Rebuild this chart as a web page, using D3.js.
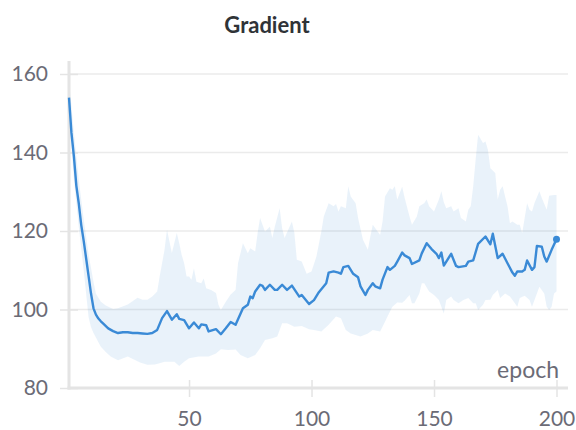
<!DOCTYPE html>
<html>
<head>
<meta charset="utf-8">
<script src="https://cdn.jsdelivr.net/npm/d3@7"></script>
<style>
  body { margin: 0; background: #fff; }
  svg { display: block; font-family: Lato, "Noto Sans", sans-serif; }
</style>
</head>
<body>
<svg id="chart" width="576" height="430"></svg>
<script>
// mean line
var meanEpochs = [1,2,3,4,5,6,7,8,9,10,11,12,13,14,15,17,19,21,23,25,27,29,31,33,35,37,39,41,43,45,46,48,50,52,54,55,57,58,61,63,65,67,69,72,74,75,76,77,79,80,81,83,85,86,88,90,92,95,96,99,101,103,106,107,109,111,112,113,115,117,119,120,122,123,125,126,128,129,131,132,134,135,137,138,140,141,144,145,147,149,151,152,153,154,157,159,160,163,164,166,168,171,173,174,176,178,180,182,183,184,186,187,188,190,191,192,194,195,196,198,200];
var meanValues = [154,145,139,131.5,127,121.5,117.5,113,108.5,104,100.3,98.7,97.7,97,96.4,95.2,94.5,94,94.2,94.2,94,94,93.9,93.8,94,94.8,97.8,99.6,97.4,98.8,97.6,97.3,95.2,96.7,95.2,96.2,96,94.4,95,93.7,95.2,96.8,96.1,100.3,101.2,103.3,102.9,104.6,106.3,106,105,106.3,105,105,106.3,105,106.1,103.3,103.7,101.4,102.4,104.4,106.7,109.4,109.7,109.4,109.1,110.8,111.1,109.1,108.2,105.9,103.7,105,106.7,105.9,105.4,107.6,110.8,110.1,111.1,112.2,114.5,113.8,113.1,111.6,112.5,114.3,116.9,115.4,114.2,113.1,114.5,111.2,114.2,111.1,110.8,111.1,112.2,112.5,116.7,118.6,116.6,119.3,113.1,114.2,111.8,109.4,108.6,109.7,109.7,110.1,112.5,110.1,110.8,116.2,116,113.5,112.2,115.2,117.9];

// band, upper edge
var maxEpochs = [1,3,5,7,9,11,12,14,16,19,21,25,29,31,33,35,37,38,40,41,42,43,45,46,47,48,49,50,51,52,53,55,56,57,59,61,62,63,65,67,69,70,72,74,75,77,78,79,80,81,83,84,85,87,88,89,92,93,94,96,98,100,102,104,105,107,109,110,111,112,114,115,116,118,119,121,123,124,125,127,128,129,130,132,133,134,135,137,138,140,141,143,144,146,147,148,150,152,153,154,155,157,158,160,161,163,164,165,166,167,168,170,171,172,173,175,176,177,178,180,181,182,184,185,186,188,189,190,191,193,194,196,197,199,200];
var maxValues = [158.6,145,133,123,114,107,104,102,101,100.1,100.3,101.3,103,102.5,102.5,103.3,104.6,108.4,115.2,120.3,117.3,114.4,119.5,116.9,113.9,111.8,108.4,108.4,107.6,110.5,107.1,106.7,107.9,105.4,105,104.2,101.2,99.9,102,103.8,105,111.8,116.9,114.3,115.6,114.8,119.5,123.3,121.6,119.9,121.1,118.2,121.1,125.8,120.7,118.2,122.4,119.5,112.7,112.2,109.1,109.7,113.5,119.9,123.7,127.1,126.3,126.9,125,126.3,125.8,131.4,128.8,127.1,123.3,117.8,115.2,118.6,121.6,119.9,119,122.4,128.8,130.9,130.5,131.4,128,131.3,128.5,123.7,121.6,123.7,126.3,127.1,128,126.3,125,128,130.1,127.3,125.8,126.3,125,125.8,123.3,122.4,125.4,126.3,131.4,138.2,144.5,142.4,142.8,140.7,136,134.8,128,130.5,131.4,126.3,122,122.4,121.6,121.6,119.5,127.1,125.4,125,127.1,130.1,128.4,125.4,129,129.2,129.2];

// band, lower edge
var minEpochs = [1,3,5,7,9,10,11,14,16,18,21,25,30,33,36,38,40,44,46,48,50,54,58,61,63,66,69,71,74,77,79,81,84,86,88,90,93,96,99,101,104,107,110,112,114,116,120,123,125,128,130,131,133,135,137,138,140,141,142,144,145,146,148,150,152,154,155,157,158,160,162,164,166,167,168,170,171,173,174,176,177,179,181,183,184,185,187,189,190,192,193,195,196,197,198,199,200];
var minValues = [150,133,121,110,98,95.5,94,90.5,89.2,88,87.1,88,86.5,85.9,86,86.3,86.7,86.7,85.6,86.7,87.6,88,88,88.8,89.9,89.7,89.8,88.4,87.6,88.4,90.1,92.2,92.7,93.1,96.5,96.5,95.6,95.8,95,94.8,94.4,96.1,98.2,97.8,94.8,93.9,93.1,93.9,94.8,94.4,96.9,98.2,100.7,101.8,101.7,102.2,103.7,101.6,101.6,104.1,106.7,106.7,104.6,103.7,102.4,99,102.4,103.3,102.4,101.6,102.4,102.9,101.6,101.6,99.9,101.2,102.4,102.5,103.7,105,102.9,104.1,103.3,101.6,100.7,102.9,103.5,102.4,100.7,104.1,105.8,104.1,100.7,99.9,100.7,104.1,104.6];

var yTicks = [80, 100, 120, 140, 160];
var xTicks = [50, 100, 150, 200];

var svg = d3.select("#chart");
var textColor = "#6b6b76";
var gridColor = "#ebebeb";
var axisColor = "#e4e4e4";
var lineColor = "#3a8ad6";

var x = d3.scaleLinear().domain([1, 200]).range([69, 556.5]);
var y = d3.scaleLinear().domain([80, 160]).range([388, 74]);

// title
svg.append("text")
  .attr("x", 267)
  .attr("y", 33)
  .attr("text-anchor", "middle")
  .attr("font-size", 22)
  .attr("font-weight", "bold")
  .attr("fill", "#2f3337")
  .text("Gradient");

// grid
svg.append("g")
  .selectAll("line")
  .data(yTicks.slice(1))
  .join("line")
    .attr("x1", 69).attr("x2", 568)
    .attr("y1", d => y(d)).attr("y2", d => y(d))
    .attr("stroke", gridColor)
    .attr("stroke-width", 1.5);

// band
var bandPts = maxEpochs.map((e, i) => [x(e), y(maxValues[i])])
  .concat(minEpochs.map((e, i) => [x(e), y(minValues[i])]).reverse());
svg.append("path")
  .attr("d", d3.line()(bandPts) + "Z")
  .attr("fill", lineColor)
  .attr("fill-opacity", 0.11);

// axes
var yAxis = svg.append("g")
  .attr("transform", "translate(69,0)")
  .call(d3.axisLeft(y).tickValues(yTicks).tickSize(9).tickPadding(12));
var xAxis = svg.append("g")
  .attr("transform", "translate(0,388)")
  .call(d3.axisBottom(x).tickValues(xTicks).tickSize(9).tickPadding(14));

[yAxis, xAxis].forEach(function(g) {
  g.select(".domain").remove();
  g.selectAll(".tick line").attr("stroke", axisColor).attr("stroke-width", 1.5);
  g.selectAll(".tick text")
    .attr("font-size", 21)
    .attr("fill", textColor)
    .attr("font-family", "Lato, 'Noto Sans', sans-serif");
});
yAxis.selectAll(".tick line").attr("x2", 9).attr("x1", -9);
xAxis.selectAll(".tick line").attr("y1", -8).attr("y2", 9);

svg.append("line")
  .attr("x1", 69).attr("x2", 69).attr("y1", 61).attr("y2", 389.5)
  .attr("stroke", axisColor).attr("stroke-width", 3);
svg.append("line")
  .attr("x1", 67.5).attr("x2", 568).attr("y1", 388).attr("y2", 388)
  .attr("stroke", axisColor).attr("stroke-width", 3);

// mean line
var meanPts = meanEpochs.map((e, i) => [x(e), y(meanValues[i])]);
svg.append("path")
  .attr("d", d3.line()(meanPts))
  .attr("fill", "none")
  .attr("stroke", lineColor)
  .attr("stroke-width", 2.4)
  .attr("stroke-linejoin", "round");

var last = meanPts[meanPts.length - 1];
svg.append("circle")
  .attr("cx", last[0]).attr("cy", last[1]).attr("r", 3.5)
  .attr("fill", lineColor);

// axis label
svg.append("text")
  .attr("x", 559)
  .attr("y", 378)
  .attr("text-anchor", "end")
  .attr("font-size", 23)
  .attr("fill", textColor)
  .text("epoch");
</script>
</body>
</html>
